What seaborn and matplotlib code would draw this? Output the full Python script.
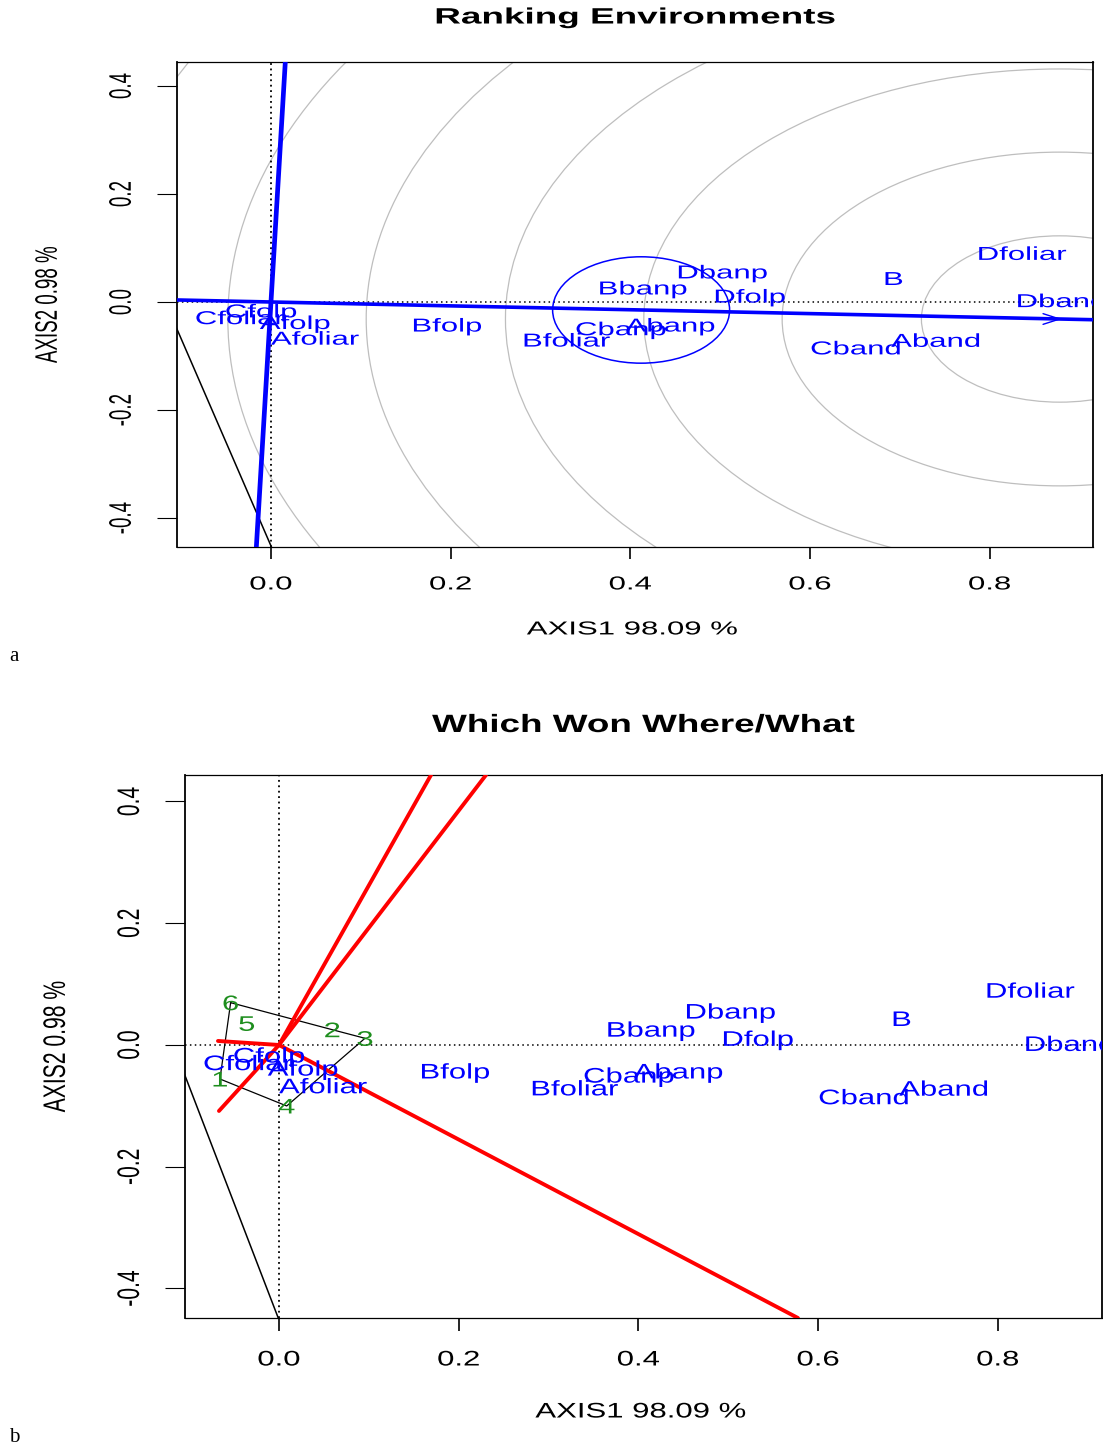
import numpy as np
import pandas as pd
import matplotlib
matplotlib.use("Agg")
import matplotlib.pyplot as plt
import seaborn as sns
from matplotlib.patches import Circle
from matplotlib.patheffects import AbstractPathEffect
from matplotlib.transforms import Affine2D

# ---------------- biplot scores ----------------
env_names = ["Dfoliar", "B", "Dband", "Dbanp", "Bbanp", "Dfolp", "Cbanp", "Abanp",
             "Bfoliar", "Bfolp", "Cband", "Aband", "Cfolp", "Cfoliar", "Afolp", "Afoliar"]
env_pc1 = [0.836, 0.693, 0.880, 0.5025, 0.414, 0.533, 0.3895, 0.4445,
           0.329, 0.196, 0.651, 0.740, -0.011, -0.0345, 0.0267, 0.049]
env_pc2 = [0.090, 0.0435, 0.0025, 0.0557, 0.026, 0.011, -0.0495, -0.0427,
           -0.0705, -0.0427, -0.085, -0.071, -0.0165, -0.029, -0.038, -0.067]

gen_names = ["1", "2", "3", "4", "5", "6"]
gen_pc1 = [-0.0657, 0.0593, 0.0957, 0.0086, -0.0359, -0.0538]
gen_pc2 = [-0.0559, 0.0251, 0.0110, -0.1002, 0.0356, 0.0695]

# polygon of vertex genotypes
hull_order = ["6", "2", "3", "4", "1", "6"]

# sector rays from the origin
ray_end_x = [-0.0679, -0.0668, 0.1692, 0.2304, 0.5776]
ray_end_y = [0.0066, -0.1084, 0.4435, 0.4435, -0.4485]

# ideal environment, average-environment circle and ranking rings
ideal_env = (0.878, -0.0315)
aec_center = (0.412, -0.0148)
aec_radius = 0.0985
ring_radii = [0.154, 0.309, 0.463, 0.617, 0.772, 0.926, 1.080]

# black guide segment in the lower left
guide_x = [-0.12, 0.004]
guide_y = [0.0088, -0.467]

x_ticks = [0.0, 0.2, 0.4, 0.6, 0.8]
x_tick_labels = ["0.0", "0.2", "0.4", "0.6", "0.8"]
y_ticks = [-0.4, -0.2, 0.0, 0.2, 0.4]
y_tick_labels = ["-0.4", "-0.2", "0.0", "0.2", "0.4"]

x_title = "AXIS1 98.09 %"
y_title = "AXIS2 0.98 %"

BLUE = "#0000FF"
RED = "#FF0000"
GREEN = "#1E8E1E"
GRAY = "#BEBEBE"


class HStretch(AbstractPathEffect):
    """Widen glyph outlines horizontally about their own centre."""

    def __init__(self, sx):
        super().__init__()
        self._sx = sx

    def draw_path(self, renderer, gc, tpath, affine, rgbFace=None):
        ext = tpath.get_extents(affine)
        cx = 0.5 * (ext.x0 + ext.x1)
        widen = Affine2D().translate(-cx, 0).scale(self._sx, 1.0).translate(cx, 0)
        renderer.draw_path(gc, tpath, affine + widen, rgbFace)


sns.set_style("white", {"axes.edgecolor": "black", "xtick.color": "black",
                        "ytick.color": "black", "text.color": "black",
                        "axes.labelcolor": "black"})
plt.rcParams["font.family"] = ["Liberation Sans", "DejaVu Sans"]

W, H = 1103, 1456
fig = plt.figure(figsize=(W / 100, H / 100), dpi=100)

panels = {
    "top": dict(rect=[177 / W, 1 - 547 / H, 916 / W, 485 / H],
                xlim=(-0.1046, 0.915), ylim=(-0.4537, 0.4444),
                fs=13.5, tfs=16.0, sx=1.66, xlen=8.6, xpad=12.6,
                title="Ranking Environments", title_y=1.0907,
                xlab_y=-0.171, ylab_x=-0.1408),
    "bottom": dict(rect=[185 / W, 1 - 1318 / H, 917 / W, 543 / H],
                   xlim=(-0.1046, 0.916), ylim=(-0.4485, 0.4435),
                   fs=15.2, tfs=18.0, sx=1.473, xlen=9.7, xpad=13.7,
                   title="Which Won Where/What", title_y=1.0921,
                   xlab_y=-0.1731, ylab_x=-0.1407),
}


def frame(ax, p):
    pe = [HStretch(p["sx"])]
    ax.set_xlim(*p["xlim"])
    ax.set_ylim(*p["ylim"])
    ax.set_xticks(x_ticks)
    ax.set_xticklabels(x_tick_labels)
    ax.set_yticks(y_ticks)
    ax.set_yticklabels(y_tick_labels)
    ax.tick_params(axis="x", bottom=True, direction="out", length=p["xlen"],
                   width=1.2, pad=p["xpad"], labelsize=p["fs"])
    ax.tick_params(axis="y", left=True, direction="out", length=14.4,
                   width=0.8, pad=25.2, labelsize=p["fs"], labelrotation=90)
    for lab in ax.get_xticklabels():
        lab.set_path_effects(pe)
    for lab in ax.get_yticklabels():
        lab.set_ha("center")
        lab.set_va("center")
        lab.set_path_effects(pe)
    for side in ("left", "right"):
        ax.spines[side].set_linewidth(1.3)
    for side in ("top", "bottom"):
        ax.spines[side].set_linewidth(0.9)
    for s in ax.spines.values():
        s.set_color("black")
    ax.set_xlabel(x_title, fontsize=p["fs"], va="center", path_effects=pe)
    ax.xaxis.set_label_coords(0.497, p["xlab_y"])
    ax.set_ylabel(y_title, fontsize=p["fs"], va="center", ha="center", path_effects=pe)
    ax.yaxis.set_label_coords(p["ylab_x"], 0.5)
    ax.set_title(p["title"], fontsize=p["tfs"], fontweight="bold", y=p["title_y"],
                 va="center", pad=0, path_effects=pe)
    ax.axhline(0, color="black", lw=1.1, ls=(0, (1, 2.2)), zorder=1)
    ax.axvline(0, color="black", lw=1.3, ls=(0, (1, 2.0)), zorder=1)
    sns.lineplot(x=guide_x, y=guide_y, color="black", lw=1.1, sort=False,
                 estimator=None, ax=ax, zorder=2)


def env_text(ax, p):
    pe = [HStretch(p["sx"])]
    for name, x, y in zip(env_names, env_pc1, env_pc2):
        ax.text(x, y, name, color=BLUE, fontsize=p["fs"], ha="center",
                va="center_baseline", clip_on=True, zorder=5, path_effects=pe)


# ---------------- Ranking environments ----------------
p = panels["top"]
ax1 = fig.add_axes(p["rect"])
for r in ring_radii:
    ax1.add_patch(Circle(ideal_env, r, fill=False, ec=GRAY, lw=0.9, zorder=1))

ix, iy = ideal_env
t = np.array([-0.25, 1.2])
sns.lineplot(x=t * ix, y=t * iy, color=BLUE, lw=2.6, sort=False, estimator=None,
             ax=ax1, zorder=3)
s = np.array([-0.6, 0.6])
sns.lineplot(x=-s * iy, y=s * ix, color=BLUE, lw=3.4, sort=False, estimator=None,
             ax=ax1, zorder=3)
# open arrow head at the ideal environment
head_dx, head_dy = 0.0186, 0.0099
for sgn in (1, -1):
    ax1.plot([ix - head_dx, ix], [iy + sgn * head_dy, iy], color=BLUE, lw=1.0, zorder=3)
ax1.add_patch(Circle(aec_center, aec_radius, fill=False, ec=BLUE, lw=1.1, zorder=3))
frame(ax1, p)
env_text(ax1, p)

# ---------------- Which won where/what ----------------
p = panels["bottom"]
ax2 = fig.add_axes(p["rect"])
gpos = {g: (x, y) for g, x, y in zip(gen_names, gen_pc1, gen_pc2)}
hull = pd.DataFrame({"x": [gpos[g][0] for g in hull_order],
                     "y": [gpos[g][1] for g in hull_order]})
sns.lineplot(data=hull, x="x", y="y", color="black", lw=0.9, sort=False,
             estimator=None, ax=ax2, zorder=2)
rays = pd.DataFrame({
    "ray": np.repeat(np.arange(len(ray_end_x)), 2),
    "x": np.ravel([[0.0, ex] for ex in ray_end_x]),
    "y": np.ravel([[0.0, ey] for ey in ray_end_y]),
})
sns.lineplot(data=rays, x="x", y="y", units="ray", estimator=None, sort=False,
             color=RED, lw=2.8, ax=ax2, zorder=3, legend=False)
frame(ax2, p)
pe2 = [HStretch(p["sx"])]
for g, x, y in zip(gen_names, gen_pc1, gen_pc2):
    ax2.text(x, y, g, color=GREEN, fontsize=p["fs"], ha="center",
             va="center_baseline", clip_on=True, zorder=5, path_effects=pe2)
env_text(ax2, p)

fig.text(14 / W, 1 - 657 / H, "a", family="Liberation Serif", fontsize=15,
         ha="center", va="center")
fig.text(14 / W, 1 - 1438 / H, "b", family="Liberation Serif", fontsize=15,
         ha="center", va="center")

fig.savefig("out.png", dpi=100)
